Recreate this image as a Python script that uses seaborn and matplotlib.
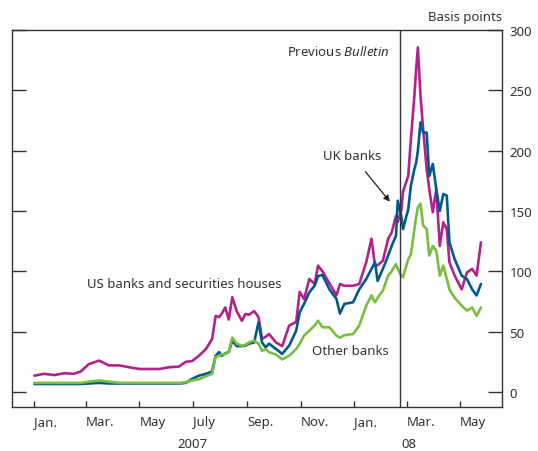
import matplotlib
matplotlib.use('Agg')
import matplotlib.pyplot as plt
import pandas as pd
import seaborn as sns

# Spread values (basis points)
dates = [
    "2007-01-01", "2007-01-12", "2007-01-24", "2007-02-04", "2007-02-15", "2007-02-23",
    "2007-03-04", "2007-03-16", "2007-03-27", "2007-04-08", "2007-04-19", "2007-05-01",
    "2007-05-12", "2007-05-24", "2007-06-04", "2007-06-15", "2007-06-23", "2007-06-30",
    "2007-07-08", "2007-07-16", "2007-07-23", "2007-07-27", "2007-07-31", "2007-08-03",
    "2007-08-07", "2007-08-11", "2007-08-15", "2007-08-20", "2007-08-26", "2007-08-30",
    "2007-09-03", "2007-09-09", "2007-09-14", "2007-09-18", "2007-09-22", "2007-09-26",
    "2007-10-04", "2007-10-11", "2007-10-19", "2007-10-27", "2007-10-31", "2007-11-05",
    "2007-11-11", "2007-11-17", "2007-11-21", "2007-11-26", "2007-12-04", "2007-12-12",
    "2007-12-16", "2007-12-21", "2007-12-31", "2008-01-07", "2008-01-15", "2008-01-21",
    "2008-01-25", "2008-01-28", "2008-02-03", "2008-02-09", "2008-02-13", "2008-02-18",
    "2008-02-20", "2008-02-24", "2008-02-26", "2008-03-03", "2008-03-06", "2008-03-10",
    "2008-03-12", "2008-03-14", "2008-03-17", "2008-03-20", "2008-03-24", "2008-03-27",
    "2008-03-31", "2008-04-04", "2008-04-08", "2008-04-12", "2008-04-16", "2008-04-19",
    "2008-04-25", "2008-05-03", "2008-05-09", "2008-05-15", "2008-05-20", "2008-05-25",
]
us_banks = [
    13.5, 15, 14, 15.5, 15, 17,
    23, 26, 22, 22, 20.5, 19,
    19, 19, 20.5, 21, 25, 25.5,
    30, 35.6, 44, 63, 62, 65,
    70, 60, 78.6, 67, 59, 64.6,
    64, 67, 62, 44, 45.6, 48,
    41, 38, 55, 58, 83, 77,
    93.6, 89.5, 104.7, 100, 90, 80,
    89.5, 88, 88, 89.5, 107.5, 127,
    104.7, 105, 108.8, 127, 132, 146,
    141, 150, 166, 179, 209.6, 245.6,
    267.6, 285.6, 245, 218, 185, 168,
    149, 168, 121, 140.6, 135, 107.5,
    96.4, 85, 99, 102, 96.4, 124,
]
uk_banks = [
    6.6, 6.6, 6.6, 6.6, 6.6, 6.6,
    7, 7.5, 7, 7, 7, 7,
    7, 7, 7, 7, 7.5, 10.8,
    13.5, 15, 17, 30, 33, 30,
    32, 33, 42.5, 38, 38, 38.4,
    40, 41, 57.8, 41, 37, 40,
    35.6, 31.5, 38.4, 50.8, 66, 73,
    82.6, 88, 96, 97, 85, 77,
    65, 73, 74.3, 85, 93.6, 102,
    107.5, 92, 102, 113, 121, 129.5,
    158.5, 146, 135, 151.6, 171, 184.8,
    190, 200, 223.5, 215, 215, 179,
    189, 168, 150, 164, 162.7, 124,
    110, 96.4, 93.6, 85, 80, 89.5,
]
other_banks = [
    7.5, 7.5, 7.5, 7.5, 7.5, 7.5,
    8.5, 9.5, 8.5, 7.5, 7.5, 7.5,
    7.5, 7.5, 7.5, 7.5, 8, 9.5,
    10.5, 13, 15, 29, 30, 31,
    31.5, 33, 45, 40, 38.4, 39,
    41, 42.5, 40, 34, 35.6, 33,
    31, 27, 30, 35.6, 40, 46.7,
    50.8, 55, 59, 53.6, 53.6, 46.7,
    45, 47, 48, 55, 71.5, 80,
    74.3, 78, 84, 96.4, 100, 106,
    102, 96.4, 95, 110, 114, 135,
    145, 153, 156, 138, 135, 113,
    121, 117, 96.4, 104.7, 93.6, 85,
    78, 71.5, 67.4, 70, 63, 70,
]

series_names = ["US banks and securities houses", "UK banks", "Other banks"]
colors = ["#B0228C", "#005A8C", "#78BE43"]

df = pd.DataFrame({
    "date": pd.to_datetime(dates),
    series_names[0]: us_banks,
    series_names[1]: uk_banks,
    series_names[2]: other_banks,
})
long_df = df.melt(id_vars="date", var_name="series", value_name="bp")

sns.set_theme(style="white")
plt.rcParams["font.family"] = ["Noto Sans", "DejaVu Sans"]
plt.rcParams["mathtext.fontset"] = "custom"
plt.rcParams["mathtext.rm"] = "Noto Sans"
plt.rcParams["mathtext.it"] = "Noto Sans:italic"

fig = plt.figure(figsize=(5.38, 4.52), dpi=100)
ax = fig.add_axes([0.0232, 0.0973, 0.9098, 0.8341])

sns.lineplot(data=long_df, x="date", y="bp", hue="series", hue_order=series_names,
             palette=colors, linewidth=1.9, legend=False, ax=ax)

txt = "#333333"
ax.set_xlim(pd.Timestamp("2006-12-07"), pd.Timestamp("2008-06-18"))
ax.set_ylim(-12.5, 300)
ax.set_xlabel("")
ax.set_ylabel("")

# previous Bulletin marker
ax.axvline(pd.Timestamp("2008-02-23"), color=txt, lw=1)

for s in ax.spines.values():
    s.set_color(txt)
    s.set_linewidth(1)

ax.set_yticks([0, 50, 100, 150, 200, 250, 300])
ax.tick_params(axis="y", which="major", left=True, right=True, labelleft=False,
               labelright=True, direction="in", length=10, width=1, color=txt,
               pad=5.5, labelsize=9.5, labelcolor=txt)

month_ticks = pd.date_range("2007-01-01", "2008-05-01", freq="2MS")
month_labels = ["Jan.", "Mar.", "May", "July", "Sep.", "Nov.", "Jan.", "Mar.", "May"]
ax.set_xticks(month_ticks)
ax.set_xticklabels(month_labels, ha="left")
ax.set_xticks(pd.to_datetime(["2007-01-01", "2008-01-01"]), minor=True)
ax.tick_params(axis="x", which="major", bottom=True, direction="in", length=4.5,
               width=1, color=txt, pad=6, labelsize=9.5, labelcolor=txt)
ax.tick_params(axis="x", which="minor", bottom=True, direction="in", length=10,
               width=1, color=txt)

ax.text(pd.Timestamp("2007-07-01"), -0.097, "2007", transform=ax.get_xaxis_transform(),
        ha="center", va="center", fontsize=9.5, color=txt)
ax.text(pd.Timestamp("2008-03-04"), -0.097, "08", transform=ax.get_xaxis_transform(),
        ha="center", va="center", fontsize=9.5, color=txt)
ax.text(1.0, 1.037, "Basis points", transform=ax.transAxes, ha="right", va="center",
        fontsize=9.5, color=txt)

ax.text(pd.Timestamp("2008-02-11"), 283, r"Previous $\mathit{Bulletin}$", ha="right",
        va="center", fontsize=9.5, color=txt)
ax.text(pd.Timestamp("2007-03-02"), 89.5, "US banks and securities houses", ha="left",
        va="center", fontsize=9.5, color=txt)
ax.text(pd.Timestamp("2007-11-14"), 34, "Other banks", ha="left", va="center",
        fontsize=9.5, color=txt)
ax.annotate("UK banks", xy=(pd.Timestamp("2008-02-11"), 157.7),
            xytext=(pd.Timestamp("2007-12-30"), 196), ha="center", va="center",
            fontsize=9.5, color=txt,
            arrowprops=dict(arrowstyle="-|>", color="#222222", lw=0.9,
                            shrinkA=6, shrinkB=0, mutation_scale=9))

fig.savefig("out.png", dpi=100)
